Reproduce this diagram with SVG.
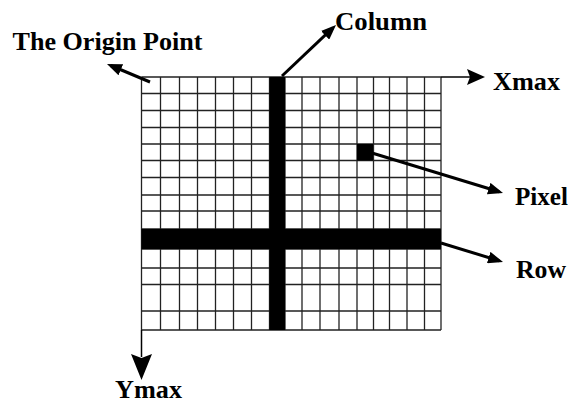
<svg xmlns="http://www.w3.org/2000/svg" width="570" height="403" viewBox="0 0 570 403">
<defs>
<marker id="ah" markerUnits="userSpaceOnUse" markerWidth="16" markerHeight="12" refX="11" refY="6" orient="auto">
<path d="M0,0 L15,6 L0,12 z" fill="#000"/>
</marker>
<style>
.g{stroke:#222;stroke-width:1.3;fill:none}
.arr{stroke:#000;stroke-width:3;fill:none;marker-end:url(#ah)}
.axis{stroke:#000;stroke-width:1.5;fill:none}
</style>
</defs>
<rect width="570" height="403" fill="#fff"/>
<g id="grid">
<g class="g">
<path d="M141.5,77V330M160.5,77V330M179.5,77V330M197.5,77V330M215.5,77V330M233.5,77V330M251.5,77V330M269.5,77V330M285,77V330M302,77V330M320,77V330M339,77V330M357,77V330M373.5,77V330M389.5,77V330M407,77V330M424.5,77V330M441,77V330"/>
<path d="M141.5,77H441M141.5,93.5H441M141.5,110.5H441M141.5,127.5H441M141.5,144H441M141.5,160.5H441M141.5,177.5H441M141.5,195H441M141.5,211H441M141.5,229H441M141.5,249H441M141.5,268H441M141.5,284.5H441M141.5,311H441M141.5,330H441"/>
</g>
<rect id="column" x="269.5" y="77" width="15.5" height="253" fill="#000"/>
<rect id="row" x="141.5" y="229" width="299.5" height="20" fill="#000"/>
<rect id="pixel" x="357" y="144" width="16" height="16.5" fill="#000"/>
</g>
<g id="connectors">
<line class="axis" x1="441" y1="77" x2="470" y2="77"/>
<polygon points="467,69 470,77 467,85 485,77" fill="#000"/>
<line class="axis" x1="141.5" y1="330" x2="141.5" y2="357"/>
<polygon points="131,354 141.5,358 152,354 141.5,380" fill="#000"/>
<line class="arr" x1="150" y1="82" x2="110.7" y2="65.5"/>
<line class="arr" x1="282" y1="76" x2="333.1" y2="27.7"/>
<line class="arr" x1="372" y1="153" x2="499.2" y2="191.8"/>
<line class="arr" x1="441" y1="243" x2="499.2" y2="260.8"/>
</g>
<g font-family="'Liberation Serif', 'Times New Roman', serif" font-weight="bold" font-size="25" fill="#000">
<g id="label-origin"><text x="12.5" y="50" textLength="190" lengthAdjust="spacingAndGlyphs">The Origin Point</text></g>
<g id="label-column"><text x="335" y="30" textLength="92" lengthAdjust="spacingAndGlyphs">Column</text></g>
<g id="label-xmax"><text x="493" y="90" textLength="67" lengthAdjust="spacingAndGlyphs">Xmax</text></g>
<g id="label-pixel"><text x="515" y="205" textLength="53" lengthAdjust="spacingAndGlyphs">Pixel</text></g>
<g id="label-row"><text x="516" y="278" textLength="50" lengthAdjust="spacingAndGlyphs">Row</text></g>
<g id="label-ymax"><text x="115" y="398" textLength="67" lengthAdjust="spacingAndGlyphs">Ymax</text></g>
</g>
</svg>
